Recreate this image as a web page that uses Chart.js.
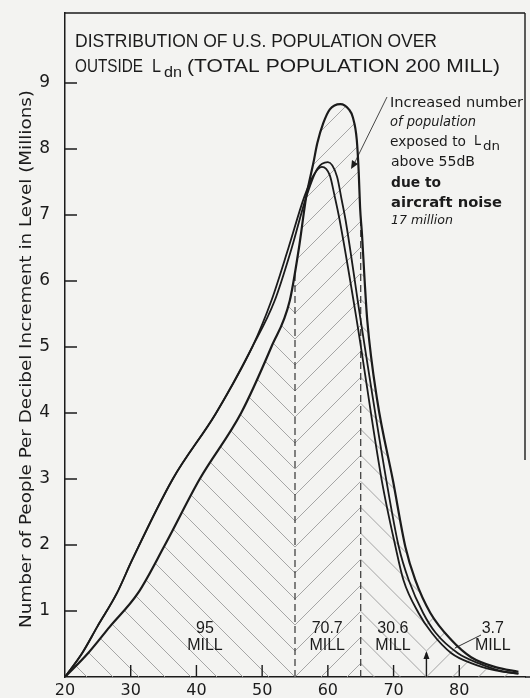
<!DOCTYPE html>
<html>
<head>
<meta charset="utf-8">
<script src="https://cdn.jsdelivr.net/npm/chart.js@4.4.1/dist/chart.umd.min.js"></script>
<style>
  html, body { margin: 0; padding: 0; background: #f3f3f1; }
  canvas { display: block; }
</style>
</head>
<body>
<canvas id="chart" width="530" height="698"></canvas>
<script>
// Outside Ldn (dB) vs millions of people per dB
const aircraftDb = [20, 23.5, 26.8, 31.1, 35.2, 40.5, 46.8, 51.4, 54.2, 55.6, 56.7, 57.8, 58.4, 59.3, 60.3, 61.9, 63.2, 63.8, 64.4, 64.7, 64.9, 65.2, 65.6, 66.0, 67.5, 69.9, 71.8, 73.3, 75.6, 78.8, 81.8, 85.5, 89];
const aircraftMill = [0, 0.36, 0.76, 1.27, 2.0, 3.0, 4.0, 5.0, 5.7, 6.5, 7.27, 7.79, 8.09, 8.39, 8.6, 8.68, 8.6, 8.48, 8.14, 7.64, 7.12, 6.7, 6.0, 5.4, 4.2, 2.98, 1.97, 1.47, 0.97, 0.56, 0.3, 0.15, 0.08];

const baseDb = [20, 22.6, 24.9, 27.9, 30.2, 36.4, 43.0, 48.5, 51.9, 54.5, 56.7, 58.4, 60.0, 61.4, 62.1, 62.7, 65.0, 68.9, 70.8, 72.3, 74.5, 76.4, 79.8, 82.9, 86, 89];
const baseMill = [0, 0.36, 0.76, 1.27, 1.77, 3.0, 4.0, 5.0, 5.7, 6.5, 7.27, 7.7, 7.8, 7.58, 7.23, 6.92, 5.4, 2.98, 1.97, 1.47, 0.97, 0.67, 0.36, 0.21, 0.1, 0.05];

const base2Db = [20, 22.6, 24.9, 27.9, 30.2, 36.4, 43.0, 48.5, 51.4, 54.0, 56.4, 57.8, 59.1, 60.3, 61.0, 61.8, 64.4, 68.2, 70.3, 71.5, 73.8, 75.8, 78.8, 81.8, 85.5, 89];
const base2Mill = [0, 0.36, 0.76, 1.27, 1.77, 3.0, 4.0, 5.0, 5.7, 6.5, 7.27, 7.6, 7.73, 7.6, 7.3, 6.92, 5.4, 2.98, 1.97, 1.47, 0.97, 0.67, 0.36, 0.21, 0.1, 0.05];

const xTicks = [20, 30, 40, 50, 60, 70, 80];
const yTicks = [1, 2, 3, 4, 5, 6, 7, 8, 9];
const rangeEdges = [55, 65, 75];
const rangeTotals = ["95", "70.7", "30.6", "3.7"];
const rangeLabelDb = [41.3, 59.9, 69.9, 85.1];

const INK = "#1b1b1b";
const toPoints = (xs, ys) => xs.map((v, i) => ({ x: v, y: ys[i] }));

// draw text squeezed/stretched to a given width
function fitText(ctx, text, x, y, width, font) {
  ctx.save();
  ctx.font = font;
  const w = ctx.measureText(text).width;
  ctx.translate(x, y);
  ctx.scale(width / w, 1);
  ctx.textAlign = "left";
  ctx.textBaseline = "middle";
  ctx.fillText(text, 0, 0);
  ctx.restore();
}

const bgPlugin = {
  id: "bg",
  beforeDraw(chart) {
    const c = chart.ctx;
    c.save();
    c.fillStyle = "#f3f3f1";
    c.fillRect(0, 0, chart.width, chart.height);
    c.restore();
  },
};

// hatching under the "with aircraft" curve, chevrons meeting on the range edges
const hatchPlugin = {
  id: "hatch",
  beforeDatasetsDraw(chart) {
    const { ctx, chartArea: area, scales: { x, y } } = chart;
    const meta = chart.getDatasetMeta(0);
    const line = meta.dataset;
    const pts = meta.data;
    const base = y.getPixelForValue(0);
    if (line.updateControlPoints) line.updateControlPoints(area, "x");

    ctx.save();
    ctx.beginPath();
    line.path(ctx);
    ctx.lineTo(pts[pts.length - 1].x, base);
    ctx.lineTo(pts[0].x, base);
    ctx.closePath();
    ctx.clip();

    const edges = [area.left, ...rangeEdges.map((v) => x.getPixelForValue(v)), area.right];
    const dirs = [1, -1, 1, -1];
    const gap = 26;
    let anchor = edges[1];
    let phase = base;
    ctx.strokeStyle = "#9c9c9c";
    ctx.lineWidth = 0.9;
    for (let i = 0; i < 4; i++) {
      if (i > 0) {
        phase = phase + dirs[i - 1] * (edges[i] - anchor);
        anchor = edges[i];
      }
      const xa = edges[i], xb = edges[i + 1];
      ctx.save();
      ctx.beginPath();
      ctx.rect(xa, area.top, xb - xa, base - area.top);
      ctx.clip();
      ctx.beginPath();
      for (let k = -60; k <= 60; k++) {
        const c = phase + k * gap;
        ctx.moveTo(xa, c + dirs[i] * (xa - anchor));
        ctx.lineTo(xb, c + dirs[i] * (xb - anchor));
      }
      ctx.stroke();
      ctx.restore();
    }

    // dashed range edges at 55 and 65 dB
    ctx.strokeStyle = "#333";
    ctx.lineWidth = 1.2;
    ctx.setLineDash([7, 4]);
    ctx.beginPath();
    [55, 65].forEach((v) => {
      const px = x.getPixelForValue(v);
      ctx.moveTo(px, base);
      ctx.lineTo(px, area.top);
    });
    ctx.stroke();
    ctx.restore();
  },
};

const decorPlugin = {
  id: "decor",
  afterDraw(chart) {
    const { ctx, chartArea: area, scales: { x, y } } = chart;
    const base = y.getPixelForValue(0);
    ctx.save();
    ctx.strokeStyle = INK;
    ctx.lineWidth = 1.4;

    // frame top / right, baseline run-out
    ctx.beginPath();
    ctx.moveTo(area.left, area.top);
    ctx.lineTo(area.right, area.top);
    ctx.moveTo(area.right, area.top);
    ctx.lineTo(area.right, 460);
    ctx.moveTo(area.right, base);
    ctx.lineTo(chart.width, base);
    ctx.stroke();

    // inward ticks
    ctx.beginPath();
    yTicks.forEach((v) => {
      const py = y.getPixelForValue(v);
      ctx.moveTo(area.left, py);
      ctx.lineTo(area.left + 12, py);
    });
    xTicks.slice(1).forEach((v) => {
      const px = x.getPixelForValue(v);
      ctx.moveTo(px, base);
      ctx.lineTo(px, base - 12);
    });
    // 75 dB marker
    const p75 = x.getPixelForValue(rangeEdges[2]);
    ctx.moveTo(p75, base);
    ctx.lineTo(p75, base - 24);
    ctx.stroke();
    ctx.beginPath();
    ctx.moveTo(p75, base - 26);
    ctx.lineTo(p75 - 3, base - 18);
    ctx.lineTo(p75 + 3, base - 18);
    ctx.closePath();
    ctx.fillStyle = INK;
    ctx.fill();

    ctx.fillStyle = INK;
    // title
    const tf = '18px "Liberation Sans"';
    fitText(ctx, "DISTRIBUTION OF U.S. POPULATION OVER", 75, 42, 362, tf);
    fitText(ctx, "OUTSIDE", 75, 67, 68, tf);
    fitText(ctx, "L", 152, 67, 9, tf);
    fitText(ctx, "dn", 164, 73, 18, '15px "Liberation Sans"');
    fitText(ctx, "(TOTAL POPULATION 200 MILL)", 187, 67, 313, tf);

    // y axis title
    ctx.save();
    ctx.translate(27, 359);
    ctx.rotate(-Math.PI / 2);
    fitText(ctx, "Number of People Per Decibel Increment in Level (Millions)", -269, 0, 538, '15px "DejaVu Sans"');
    ctx.restore();

    // range totals
    rangeTotals.forEach((t, i) => {
      const px = x.getPixelForValue(rangeLabelDb[i]);
      ctx.font = '16px "Liberation Sans"';
      ctx.textAlign = "center";
      ctx.textBaseline = "middle";
      ctx.fillText(t, px, base - 48);
      ctx.fillText("MILL", px, base - 31);
    });
    // leader for 3.7
    ctx.lineWidth = 0.9;
    ctx.beginPath();
    ctx.moveTo(481, base - 42);
    ctx.lineTo(455, base - 29);
    ctx.stroke();

    // annotation
    const reg = '14px "DejaVu Sans"';
    const ita = 'italic 14px "DejaVu Sans"';
    const bld = 'bold 14px "DejaVu Sans"';
    fitText(ctx, "Increased number", 390, 103, 133, reg);
    fitText(ctx, "of population", 390, 122, 86, ita);
    fitText(ctx, "exposed to", 390, 142, 76, reg);
    fitText(ctx, "L", 474, 141, 7, reg);
    fitText(ctx, "dn", 483, 147, 17, '13px "DejaVu Sans"');
    fitText(ctx, "above 55dB", 391, 162, 84, reg);
    fitText(ctx, "due to", 391, 183, 50, bld);
    fitText(ctx, "aircraft noise", 391, 203, 111, bld);
    fitText(ctx, "17 million", 391, 221, 62, 'italic 13px "DejaVu Sans"');

    // leader from the note into the added area
    ctx.lineWidth = 0.8;
    ctx.beginPath();
    ctx.moveTo(387, 97);
    ctx.lineTo(355, 162);
    ctx.stroke();
    ctx.beginPath();
    ctx.moveTo(351, 169);
    ctx.lineTo(352, 160);
    ctx.lineTo(358, 164);
    ctx.closePath();
    ctx.fill();
    ctx.restore();
  },
};

const lineStyle = {
  borderColor: INK,
  pointRadius: 0,
  fill: false,
  cubicInterpolationMode: "monotone",
};

new Chart(document.getElementById("chart"), {
  type: "line",
  data: {
    datasets: [
      { label: "With aircraft noise", data: toPoints(aircraftDb, aircraftMill), borderWidth: 2.2, ...lineStyle },
      { label: "Without aircraft noise", data: toPoints(baseDb, baseMill), borderWidth: 1.8, ...lineStyle },
      { label: "Without aircraft noise (alt.)", data: toPoints(base2Db, base2Mill), borderWidth: 1.8, ...lineStyle },
    ],
  },
  options: {
    responsive: false,
    animation: false,
    layout: { padding: { top: 13, right: 5, left: 0, bottom: 0 } },
    plugins: { legend: { display: false }, tooltip: { enabled: false } },
    scales: {
      x: {
        type: "linear",
        min: 20,
        max: 90,
        afterFit: (s) => { s.height = 21; s.paddingLeft = 0; s.paddingRight = 0; },
        afterBuildTicks: (s) => { s.ticks = xTicks.map((v) => ({ value: v })); },
        grid: { display: false },
        border: { display: true, color: INK, width: 1.5 },
        ticks: { padding: -4, maxRotation: 0, autoSkip: false, color: INK, font: { family: "DejaVu Sans", size: 16 } },
      },
      y: {
        type: "linear",
        min: 0,
        max: 10.06,
        afterFit: (s) => { s.width = 65; s.paddingTop = 0; s.paddingBottom = 0; },
        afterBuildTicks: (s) => { s.ticks = yTicks.map((v) => ({ value: v })); },
        grid: { display: false },
        border: { display: true, color: INK, width: 1.5 },
        ticks: { padding: 7, color: INK, font: { family: "DejaVu Sans", size: 17 } },
      },
    },
  },
  plugins: [bgPlugin, hatchPlugin, decorPlugin],
});
</script>
</body>
</html>
